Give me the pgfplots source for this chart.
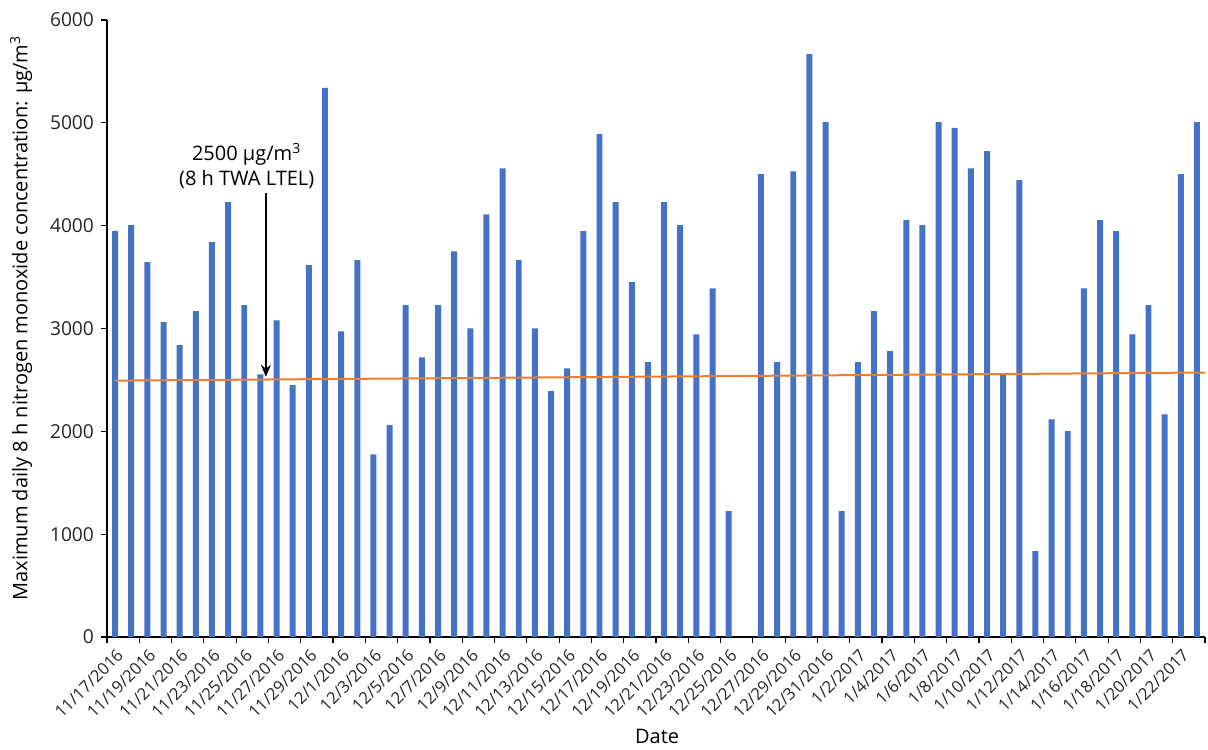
\documentclass[border=0pt]{standalone}
\usepackage{pgfplots}
\pgfplotsset{compat=1.18}
\usepackage{fontspec}
\setmainfont{Open Sans}
\usetikzlibrary{arrows.meta}
\definecolor{barblue}{HTML}{4472C4}
\definecolor{lineorange}{HTML}{ED7D31}
\begin{document}
\begin{tikzpicture}
\begin{axis}[
  scale only axis,
  width=549pt, height=308.5pt,
  xmin=-0.5, xmax=67.5, ymin=0, ymax=6000,
  axis x line=bottom, axis y line=left,
  axis line style={-, black, line width=0.6pt},
  tick align=outside,
  major tick length=3pt,
  ytick={0,1000,...,6000},
  ytick style={black, line width=0.6pt},
  xtick={0,2,...,66},
  xticklabels={11/17/2016,11/19/2016,11/21/2016,11/23/2016,11/25/2016,11/27/2016,11/29/2016,12/1/2016,12/3/2016,12/5/2016,12/7/2016,12/9/2016,12/11/2016,12/13/2016,12/15/2016,12/17/2016,12/19/2016,12/21/2016,12/23/2016,12/25/2016,12/27/2016,12/29/2016,12/31/2016,1/2/2017,1/4/2017,1/6/2017,1/8/2017,1/10/2017,1/12/2017,1/14/2017,1/16/2017,1/18/2017,1/20/2017,1/22/2017},
  xtick style={draw=none},
  extra x ticks={-0.5,1.5,...,67.5},
  extra x tick labels={},
  extra x tick style={xtick style={draw=black, line width=0.6pt}},
  xticklabel style={rotate=45, anchor=east, xshift=2pt, yshift=-5pt, font=\fontsize{8.3}{10}\selectfont, color=black!85},
  yticklabel style={font=\fontsize{9.6}{11}\selectfont, color=black!85},
  /pgf/number format/assume math mode=true,
  /pgf/number format/1000 sep={},
  xlabel={Date},
  ylabel={Maximum daily 8 h nitrogen monoxide concentration: μg/m\textsuperscript{3}},
  xlabel style={at={(axis description cs:0.501,-0.162)}, anchor=center, font=\fontsize{10}{12}\selectfont},
  ylabel style={at={(axis description cs:-0.0783,0.517)}, anchor=center, font=\fontsize{10}{12}\selectfont},
  clip=false,
]
\coordinate (SW) at (rel axis cs:0,0);
\addplot[ybar, bar width=0.37, fill=barblue, draw=none] coordinates {
(0,3950) (1,4005) (2,3645) (3,3063) (4,2838) (5,3170) (6,3841) (7,4230)
(8,3227) (9,2555) (10,3080) (11,2449) (12,3616) (13,5340) (14,2973) (15,3665)
(16,1777) (17,2060) (18,3227) (19,2719) (20,3227) (21,3751) (22,3002) (23,4111)
(24,4558) (25,3665) (26,3002) (27,2391) (28,2613) (29,3948) (30,4889) (31,4230)
(32,3452) (33,2674) (34,4230) (35,4005) (36,2944) (37,3391) (38,1224)
(40,4500) (41,2674) (42,4529) (43,5667) (44,5008) (45,1224) (46,2674) (47,3170)
(48,2780) (49,4054) (50,4005) (51,5008) (52,4951) (53,4558) (54,4726) (55,2555)
(56,4443) (57,835) (58,2117) (59,2002) (60,3391) (61,4054) (62,3948) (63,2944)
(64,3227) (65,2166) (66,4500) (67,5008)
};
\addplot[lineorange, line width=1pt] coordinates {(0,2493) (67.5,2572)};
\node[align=center, font=\fontsize{10}{12.2}\selectfont, inner sep=0pt] at (axis cs:8.15,4583) {2500 μg/m\textsuperscript{3}\\(8 h TWA LTEL)};
\draw[line width=0.8pt, -{Stealth[length=6pt, width=5pt]}] (axis cs:9.34,4320) -- (axis cs:9.34,2531);
\end{axis}
\pgfresetboundingbox
\path[use as bounding box] ([xshift=-53.5pt,yshift=-56pt]SW) rectangle ++(604pt,374.5pt);
\end{tikzpicture}
\end{document}
